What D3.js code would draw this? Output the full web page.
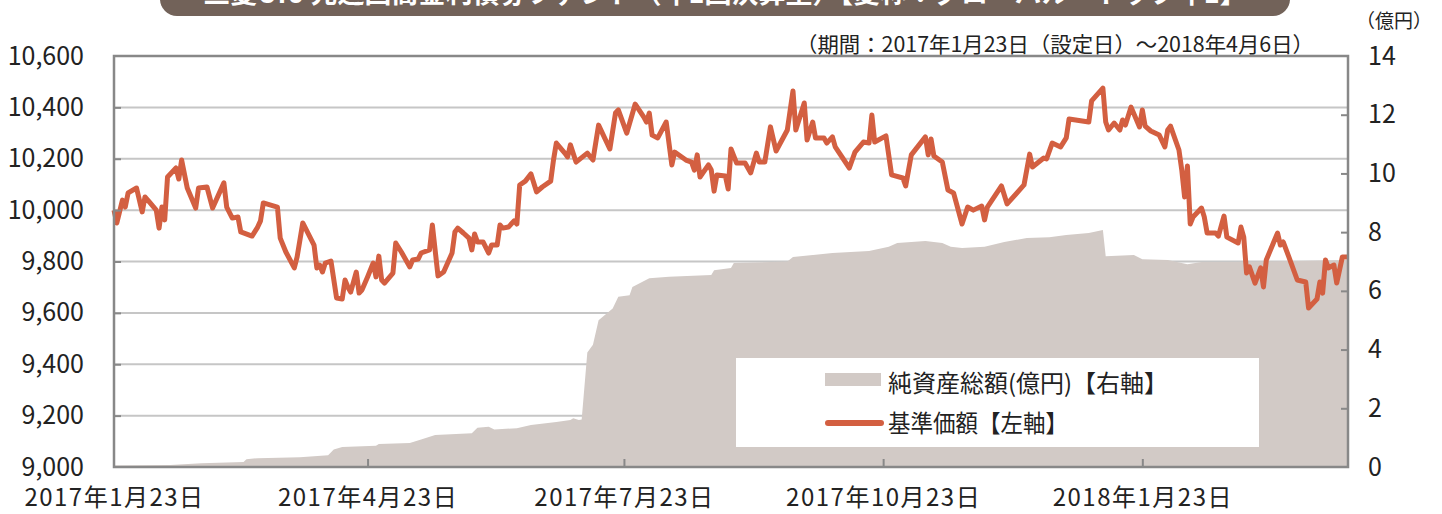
<!DOCTYPE html>
<html lang="ja">
  <head>
    <meta charset="UTF-8" />
    <title>基準価額・純資産総額の推移</title>
    <script src="https://d3js.org/d3.v7.min.js"></script>
    <style>
      body { margin: 0; background: #fff; }
      svg text { font-family: "Noto Sans CJK JP", "Noto Sans", sans-serif; fill: #222; }
    </style>
  </head>
  <body>
    <svg id="chart" width="1442" height="514"></svg>

    <script>
      // days since 2017-01-23 (設定日)
      const priceDay = [
        0, 1, 3, 4, 5, 8, 10, 11, 12, 15, 16, 17, 18, 19, 22, 23, 24, 26, 29, 30,
        33, 35, 39, 40, 42, 44, 45, 49, 51, 52, 53, 58, 59, 61, 64, 65, 67, 71, 72, 73,
        74, 75, 77, 79, 81, 82, 83, 84, 86, 87, 88, 90, 92, 93, 94, 95, 96, 99, 100, 102,
        105, 106, 108, 109, 112, 113, 115, 117, 120, 121, 122, 124, 126, 127, 128, 129, 131, 133, 134, 136,
        137, 138, 140, 142, 143, 144, 146, 148, 150, 152, 155, 156, 157, 160, 161, 162, 164, 168, 170, 172,
        176, 178, 179, 182, 185, 188, 189, 190, 191, 193, 196, 198, 199, 203, 205, 206, 207, 208, 211, 212,
        213, 214, 217, 218, 219, 221, 224, 226, 228, 229, 231, 233, 235, 239, 241, 242, 245, 246, 248, 249,
        252, 253, 255, 256, 261, 263, 266, 268, 269, 270, 274, 276, 280, 281, 283, 288, 289, 290, 291, 294,
        296, 298, 301, 303, 305, 308, 309, 310, 315, 317, 323, 325, 326, 330, 331, 333, 336, 338, 339, 346,
        347, 351, 352, 353, 355, 357, 358, 359, 361, 364, 365, 366, 368, 371, 373, 374, 375, 378, 379, 380,
        381, 382, 383, 386, 387, 388, 391, 392, 394, 395, 399, 400, 401, 402, 403, 405, 407, 408, 409, 413,
        414, 415, 417, 420, 423, 424, 427, 428, 429, 430, 431, 433, 434, 436, 438
      ];
      const priceValue = [
        10000, 9950, 10039, 10012, 10067, 10086, 9993, 10051, 10039, 10000, 9930, 10012, 9962, 10129, 10164, 10121, 10195, 10086, 10008, 10086,
        10090, 10008, 10106, 10012, 9969, 9973, 9915, 9899, 9934, 9958, 10028, 10012, 9891, 9837, 9775, 9818, 9950, 9864, 9775, 9786,
        9759, 9794, 9802, 9658, 9654, 9728, 9701, 9681, 9759, 9677, 9689, 9740, 9794, 9740, 9821, 9728, 9716, 9755, 9872, 9837,
        9779, 9806, 9810, 9833, 9845, 9942, 9744, 9759, 9833, 9915, 9930, 9911, 9891, 9845, 9907, 9876, 9876, 9833, 9864, 9864,
        9942, 9930, 9934, 9958, 9946, 10098, 10113, 10141, 10071, 10090, 10113, 10195, 10261, 10222, 10207, 10254, 10187, 10222, 10195, 10331,
        10238, 10378, 10390, 10300, 10413, 10363, 10343, 10378, 10292, 10281, 10343, 10176, 10226, 10195, 10187, 10156, 10215, 10129, 10176, 10156,
        10074, 10137, 10133, 10082, 10238, 10183, 10183, 10145, 10222, 10187, 10187, 10324, 10230, 10312, 10464, 10312, 10417, 10273, 10343, 10281,
        10281, 10261, 10285, 10246, 10164, 10226, 10265, 10261, 10370, 10265, 10289, 10137, 10125, 10094, 10215, 10285, 10215, 10277, 10211, 10187,
        10078, 10067, 9946, 10012, 10000, 10016, 9962, 10012, 10094, 10024, 10098, 10218, 10168, 10203, 10199, 10261, 10246, 10281, 10355, 10343,
        10425, 10475, 10343, 10312, 10339, 10312, 10351, 10331, 10401, 10324, 10390, 10327, 10308, 10292, 10246, 10312, 10327, 10234, 10156, 10051,
        10172, 9946, 9973, 10008, 9973, 9911, 9911, 9899, 9977, 9895, 9872, 9934, 9895, 9755, 9779, 9716, 9775, 9701, 9806, 9911,
        9864, 9876, 9818, 9728, 9720, 9619, 9654, 9720, 9677, 9806, 9775, 9786, 9716, 9818, 9818
      ];

      // 純資産総額 (億円)
      const assetDay = [
        0, 20, 31, 46, 47, 51, 66, 76, 78, 81, 93, 94, 105, 109, 114, 127, 129, 133, 135, 143,
        148, 157, 162, 163, 165, 166, 168, 170, 172, 177, 179, 183, 184, 190, 197, 212, 213, 219, 220, 239,
        241, 255, 268, 275, 278, 288, 294, 297, 301, 309, 316, 324, 332, 338, 346, 351, 352, 362, 365, 374,
        381, 386, 397, 438
      ];
      const assetValue = [
        0.05, 0.07, 0.13, 0.17, 0.26, 0.30, 0.33, 0.40, 0.60, 0.68, 0.72, 0.78, 0.82, 0.94, 1.09, 1.15, 1.34, 1.37, 1.28, 1.32,
        1.43, 1.53, 1.60, 1.66, 1.60, 1.62, 3.90, 4.16, 5.00, 5.40, 5.80, 5.85, 6.13, 6.43, 6.48, 6.54, 6.70, 6.78, 6.95, 7.00,
        7.15, 7.29, 7.36, 7.50, 7.63, 7.70, 7.63, 7.50, 7.46, 7.50, 7.66, 7.80, 7.83, 7.90, 7.97, 8.07, 7.18, 7.22, 7.08, 7.05,
        6.91, 6.98, 6.98, 7.05
      ];

      const startDate = "2017-01-23";
      const endDate = "2018-04-06";
      const tickDates = ["2017-01-23", "2017-04-23", "2017-07-23", "2017-10-23", "2018-01-23"];
      const tickLabels = ["2017年1月23日", "2017年4月23日", "2017年7月23日", "2017年10月23日", "2018年1月23日"];
      const leftTicks = [9000, 9200, 9400, 9600, 9800, 10000, 10200, 10400, 10600];
      const rightTicks = [0, 2, 4, 6, 8, 10, 12, 14];

      const title = "三菱UFJ 先進国高金利債券ファンド（年1回決算型）【愛称：グローバル・トップ年1】";
      const period = "（期間：2017年1月23日（設定日）～2018年4月6日）";
      const assetLabel = "純資産総額(億円)【右軸】";
      const priceLabel = "基準価額【左軸】";

      const parse = d3.timeParse("%Y-%m-%d");
      const t0 = parse(startDate);
      const toDate = (n) => d3.timeDay.offset(t0, n);

      const priceData = priceDay.map((d, i) => ({ date: toDate(d), v: priceValue[i] }));
      const assetData = assetDay.map((d, i) => ({ date: toDate(d), v: assetValue[i] }));

      const svg = d3.select("#chart"),
        plotLeft = 114,
        plotRight = 1348,
        plotTop = 56,
        plotBottom = 467;

      const x = d3.scaleTime().domain([t0, parse(endDate)]).range([plotLeft, plotRight]);
      const yL = d3.scaleLinear().domain([9000, 10600]).range([plotBottom, plotTop]);
      const yR = d3.scaleLinear().domain([0, 14]).range([plotBottom, plotTop]);

      const areaColor = "#d2cac6";
      const lineColor = "#d35f41";

      // title bar (cut at the top of the picture)
      svg.append("rect")
        .attr("x", 160).attr("y", -30)
        .attr("width", 1130).attr("height", 46)
        .attr("rx", 17)
        .attr("fill", "#726259");
      svg.append("text")
        .attr("x", 725).attr("y", 3)
        .attr("text-anchor", "middle")
        .style("font-size", "27px")
        .style("font-weight", "bold")
        .style("fill", "#fff")
        .text(title);

      // gridlines
      svg.append("g")
        .selectAll("line")
        .data(leftTicks.filter((d) => d > 9000 && d < 10600))
        .enter()
        .append("line")
        .attr("x1", plotLeft).attr("x2", plotRight)
        .attr("y1", (d) => yL(d)).attr("y2", (d) => yL(d))
        .attr("stroke", "#c6c6c6")
        .attr("stroke-width", 2);

      // 純資産総額 area
      svg.append("path")
        .datum(assetData)
        .attr("fill", areaColor)
        .attr("d", d3.area().x((d) => x(d.date)).y0(plotBottom).y1((d) => yR(d.v)));

      // 基準価額 line
      svg.append("path")
        .datum(priceData)
        .attr("fill", "none")
        .attr("stroke", lineColor)
        .attr("stroke-width", 5)
        .attr("stroke-linejoin", "round")
        .attr("d", d3.line().x((d) => x(d.date)).y((d) => yL(d.v)));

      // frame
      svg.append("rect")
        .attr("x", plotLeft).attr("y", plotTop)
        .attr("width", plotRight - plotLeft).attr("height", plotBottom - plotTop)
        .attr("fill", "none")
        .attr("stroke", "#888")
        .attr("stroke-width", 2.5);

      // axes
      const axL = svg.append("g")
        .attr("transform", `translate(${plotLeft},0)`)
        .call(d3.axisLeft(yL).tickValues(leftTicks).tickFormat(d3.format(",")).tickSizeInner(-7).tickSizeOuter(0).tickPadding(30));
      const axR = svg.append("g")
        .attr("transform", `translate(${plotRight},0)`)
        .call(d3.axisRight(yR).tickValues(rightTicks).tickSizeInner(-7).tickSizeOuter(0).tickPadding(20));
      const axB = svg.append("g")
        .attr("transform", `translate(0,${plotBottom})`)
        .call(d3.axisBottom(x).tickValues(tickDates.map(parse)).tickFormat((d, i) => tickLabels[i]).tickSizeInner(-8).tickSizeOuter(0).tickPadding(22));

      [axL, axR, axB].forEach((g) => {
        g.select(".domain").remove();
        g.selectAll(".tick line").attr("stroke", "#888").attr("stroke-width", 2);
        g.selectAll("text").style("font-size", "25px").attr("fill", "#222");
      });
      axB.selectAll("text").style("font-size", "24px").style("letter-spacing", "1.5px");
      axL.selectAll(".tick").filter((d) => d === 9000 || d === 10600).select("line").remove();
      axR.selectAll(".tick").filter((d) => d === 0 || d === 14).select("line").remove();
      axB.selectAll(".tick").filter((d, i) => i === 0).select("line").remove();

      // period note and unit
      svg.append("text")
        .attr("x", 1314).attr("y", 52)
        .attr("text-anchor", "end")
        .attr("textLength", 518)
        .attr("lengthAdjust", "spacingAndGlyphs")
        .style("font-size", "21px")
        .text(period);
      svg.append("text")
        .attr("x", 1356).attr("y", 28)
        .style("font-size", "19px")
        .text("（億円）");

      // legend
      const lg = svg.append("g");
      lg.append("rect")
        .attr("x", 736).attr("y", 358)
        .attr("width", 523).attr("height", 89)
        .attr("fill", "#fff");
      lg.append("rect")
        .attr("x", 825).attr("y", 373)
        .attr("width", 56).attr("height", 13)
        .attr("fill", areaColor);
      lg.append("line")
        .attr("x1", 828).attr("x2", 881)
        .attr("y1", 423).attr("y2", 423)
        .attr("stroke", lineColor)
        .attr("stroke-width", 6)
        .attr("stroke-linecap", "round");
      lg.append("text")
        .attr("x", 888).attr("y", 383)
        .attr("dy", "0.36em")
        .attr("textLength", 280)
        .attr("lengthAdjust", "spacingAndGlyphs")
        .style("font-size", "24px")
        .text(assetLabel);
      lg.append("text")
        .attr("x", 888).attr("y", 423)
        .attr("dy", "0.36em")
        .attr("textLength", 180)
        .attr("lengthAdjust", "spacingAndGlyphs")
        .style("font-size", "24px")
        .text(priceLabel);
    </script>
  </body>
</html>
